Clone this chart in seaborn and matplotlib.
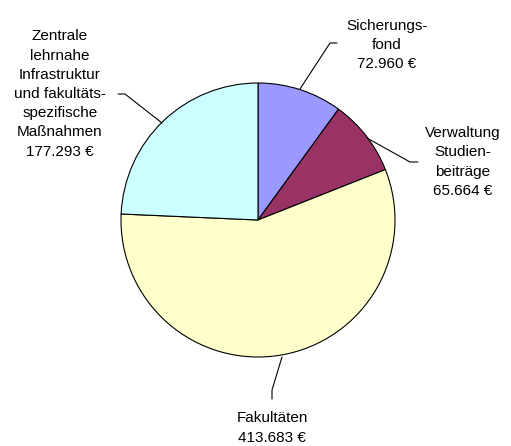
import matplotlib
matplotlib.use("Agg")
import matplotlib.pyplot as plt
import seaborn as sns

sns.set_theme(style="white")
plt.rcParams['font.family'] = ['Liberation Sans', 'DejaVu Sans']

labels = ["Sicherungs-\nfond", "Verwaltung\nStudien-\nbeiträge", "Fakultäten",
          "Zentrale\nlehrnahe\nInfrastruktur\nund fakultäts-\nspezifische\nMaßnahmen"]
values = [72960, 65664, 413683, 177293]
value_text = ["72.960 €", "65.664 €", "413.683 €", "177.293 €"]
colors = ["#9999FF", "#993366", "#FFFFCC", "#CCFFFF"]

W, H = 511, 446
fig = plt.figure(figsize=(W / 100, H / 100), dpi=100)
ax = fig.add_axes([0, 0, 1, 1])

cx, cy, r = 258, H - 220, 137
ax.pie(values, colors=colors, startangle=90, counterclock=False,
       center=(cx, cy), radius=r, frame=True,
       wedgeprops=dict(edgecolor="black", linewidth=0.8))
ax.set_xlim(0, W)
ax.set_ylim(0, H)
ax.set_aspect("equal")
ax.axis("off")

# label placements (pixel coords, y from top) and leader lines
placements = [
    dict(x=387, y=45, line=[(300, 89), (330, 43), (337, 43)]),
    dict(x=463, y=162, line=[(367, 138), (410, 162), (418, 162)]),
    dict(x=272, y=428, line=[(282, 357), (272, 390), (272, 399)]),
    dict(x=60, y=94, line=[(162, 123), (125, 94), (118, 94)]),
]
for lab, vt, p in zip(labels, value_text, placements):
    ax.text(p["x"], H - p["y"], lab + "\n" + vt, ha="center", va="center",
            fontsize=11, linespacing=1.47, color="black")
    xs = [q[0] for q in p["line"]]
    ys = [H - q[1] for q in p["line"]]
    ax.plot(xs, ys, color="black", linewidth=0.8)

fig.savefig("out.png", dpi=100, facecolor="white")
